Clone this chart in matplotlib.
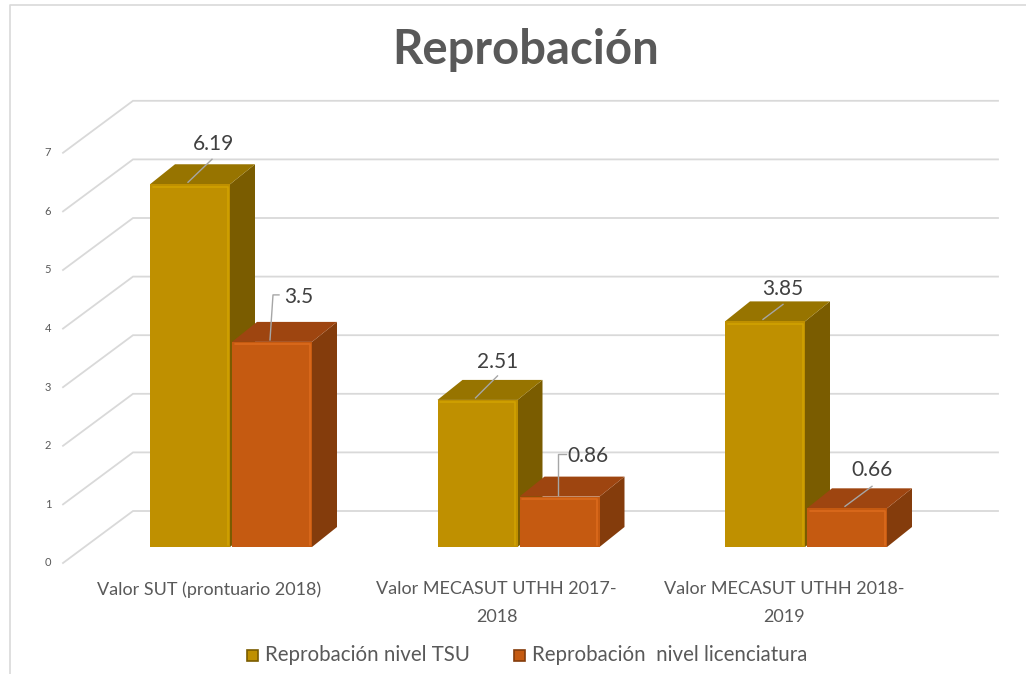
import matplotlib.pyplot as plt
from matplotlib.patches import Polygon, Rectangle

categories = ["Valor SUT (prontuario 2018)",
              "Valor MECASUT UTHH 2017-\n2018",
              "Valor MECASUT UTHH 2018-\n2019"]
tsu = [6.19, 2.51, 3.85]
lic = [3.5, 0.86, 0.66]
series_names = ["Reprobación nivel TSU", "Reprobación  nivel licenciatura"]
y_ticks = [0, 1, 2, 3, 4, 5, 6, 7]
title = "Reprobación"

W, H = 1026, 674
PX_X, PX_Y = 287.5, 58.6   # pixels per category step / per value unit
X0, Y0 = 231, 547          # pixel position of category 0 / value 0 (bar front)

FONT = "Lato"
TXT = "#595959"
GRID = "#d9d9d9"

gold = dict(front="#bf9000", top="#977400", side="#7a5c00", hi="#d1a200")
orange = dict(front="#c55a11", top="#9e4510", side="#843c0c", hi="#db6a1c")


def px(dx, dy):
    # pixel offsets (dy positive = up) -> data offsets
    return dx / PX_X, dy / PX_Y


fig = plt.figure(figsize=(W / 100, H / 100), dpi=100)
ax = fig.add_axes([0, 0, 1, 1])
ax.set_xlim(-X0 / PX_X, (W - X0) / PX_X)
ax.set_ylim(-(H - Y0) / PX_Y, Y0 / PX_Y)
ax.axis("off")

# chart border (top and left visible)
ax.plot([1, 0.0098, 0.0098], [0.993, 0.993, 0], transform=ax.transAxes,
        color=GRID, lw=1.2, clip_on=False)

# walls: left side diagonals + back wall gridlines
wfx, wfy = px(-168, -16)
wbx, wby = px(-98, 36)
grid_end = (998 - X0) / PX_X
for t in y_ticks:
    ax.plot([wfx, wbx, grid_end], [t + wfy, t + wby, t + wby],
            color=GRID, lw=1.3, zorder=1, solid_joinstyle="miter")
    ax.text(wfx - 15 / PX_X, t + wfy, str(t), ha="center", va="center",
            fontsize=8, color=TXT, family=FONT)

bw = 80 / PX_X
ddx, ddy = px(25, 20)


def bar3d(x0, v, c, z):
    x1 = x0 + bw
    ax.add_patch(Polygon([(x1, 0), (x1 + ddx, ddy), (x1 + ddx, v + ddy), (x1, v)],
                         closed=True, fc=c["side"], ec="none", zorder=z))
    ax.add_patch(Polygon([(x0, v), (x1, v), (x1 + ddx, v + ddy), (x0 + ddx, v + ddy)],
                         closed=True, fc=c["top"], ec="none", zorder=z))
    ax.add_patch(Rectangle((x0, 0), bw, v, fc=c["front"], ec="none", zorder=z))
    hx, hy = px(2.5, 2.5)
    ax.plot([x0 + hx, x1 - hx, x1 - hx], [v - hy, v - hy, hy],
            color=c["hi"], lw=1.2, zorder=z + 0.1, solid_capstyle="round")


# label layout: label centre and leader points, pixel offsets from the bar's top-left anchor
tsu_lab = [(25, 38), (22, 36), (20, 30)]
tsu_lead = [[(0, 0), (24, 23)], [(0, 0), (22, 22)], [(0, 0), (20, 15)]]
lic_lab = [(29, 43), (30, 39), (27, 36)]
lic_lead = [[(0, 0), (3, 45), (9, 45)], [(0, 0), (0, 41), (8, 41)], [(0, 0), (27, 20)]]

left_gold = -81 / PX_X
left_or = 1 / PX_X
anchor_dx, anchor_dy = px(38, 2)

for i in range(len(categories)):
    for x0, v, c, lab, lead, z in [(i + left_gold, tsu[i], gold, tsu_lab[i], tsu_lead[i], 3),
                                   (i + left_or, lic[i], orange, lic_lab[i], lic_lead[i], 4)]:
        bar3d(x0, v, c, z)
        axx, axy = x0 + anchor_dx, v + anchor_dy
        pts = [px(*p) for p in lead]
        ax.plot([axx + p[0] for p in pts], [axy + p[1] for p in pts],
                color="#a6a6a6", lw=1.0, zorder=6)
        lx, ly = px(*lab)
        ax.text(axx + lx, axy + ly, f"{v:g}", ha="center", va="center",
                fontsize=15, color="#404040", family=FONT, zorder=7)
    cx, cy = px(-22, -34)
    ax.text(i + cx, cy, categories[i], ha="center", va="top", fontsize=13,
            color=TXT, family=FONT, linespacing=1.95)

# title
fig.text(526 / W, 1 - 50 / H, title, ha="center", va="center", fontsize=34,
         fontweight="bold", color=TXT, family=FONT)

# legend
for mx, tx, c, name in [(252, 265, gold, series_names[0]), (519, 532, orange, series_names[1])]:
    s = 11
    fig.add_artist(Rectangle(((mx - s / 2) / W, 1 - (655 + s / 2) / H), s / W, s / H,
                             fc=c["front"], ec=c["side"], lw=1.2, transform=fig.transFigure))
    fig.text(tx / W, 1 - 655 / H, name, ha="left", va="center", fontsize=14.8,
             color=TXT, family=FONT)

fig.savefig("out.png", dpi=100)
